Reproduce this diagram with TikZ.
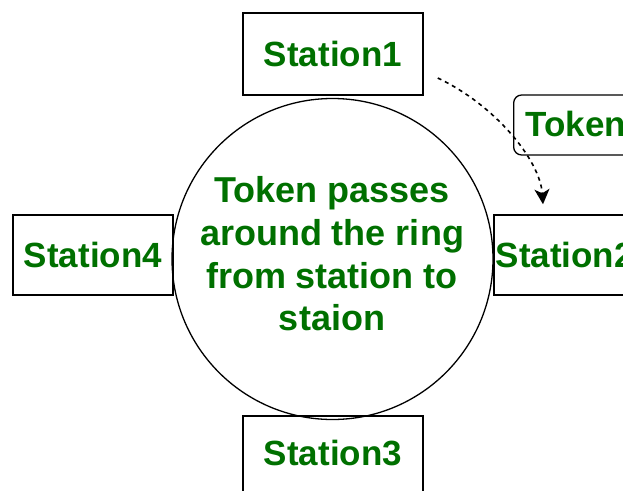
\documentclass[tikz,border=0pt]{standalone}
\usepackage{fontspec}
\setmainfont{Liberation Sans}
\usetikzlibrary{arrows.meta}
\definecolor{labelgreen}{RGB}{0,112,0}
\begin{document}
\begin{tikzpicture}[x=1pt,y=-1pt,
  lbl/.style={text=labelgreen, font=\fontsize{35}{42.5}\selectfont\bfseries},
  stationbox/.style={draw, line width=1.5pt, lbl, inner sep=0pt, text height=24pt, text depth=0pt},
  tokenbox/.style={draw, line width=1.3pt, rounded corners=8pt, lbl, inner ysep=0pt, inner xsep=12pt,
    text height=22pt, text depth=0pt, minimum height=60pt, text width=150pt, align=left},
  flow/.style={dashed, dash pattern=on 4pt off 4pt, line width=1.6pt, -{Stealth[length=15pt,width=15pt,inset=4pt]}}
]
\useasboundingbox (0,0) rectangle (623,490);
\clip (0,0) rectangle (623,490);

% the ring
\node[draw, circle, line width=1.3pt, minimum size=321pt, inner sep=0pt] (ring) at (332.5,259) {};
\node[lbl, align=center, font=\fontsize{36}{42.7}\selectfont\bfseries] (ringtext) at (332,254)
  {Token passes\\around the ring\\from station to\\staion};

% stations
\node[stationbox, minimum width=180pt, minimum height=82pt] (s1) at (333,54) {Station1};
\node[stationbox, minimum width=160pt, minimum height=80pt] (s4) at (93,255) {Station4};
\node[stationbox, anchor=west, minimum height=80pt, text width=190pt, align=left, inner xsep=2pt] (s2) at (493,255) {Station2};
\node[stationbox, anchor=north, minimum width=180pt, minimum height=76pt] (s3) at (333,415) {Station3};

% token label and its path
\node[tokenbox, anchor=west] (token) at (513,125) {Token};
\draw[flow] ([shift={(14,24)}]s1.east) .. controls (495,105) and (540,160) .. ([shift={(50,-10)}]s2.north west);
\end{tikzpicture}
\end{document}
